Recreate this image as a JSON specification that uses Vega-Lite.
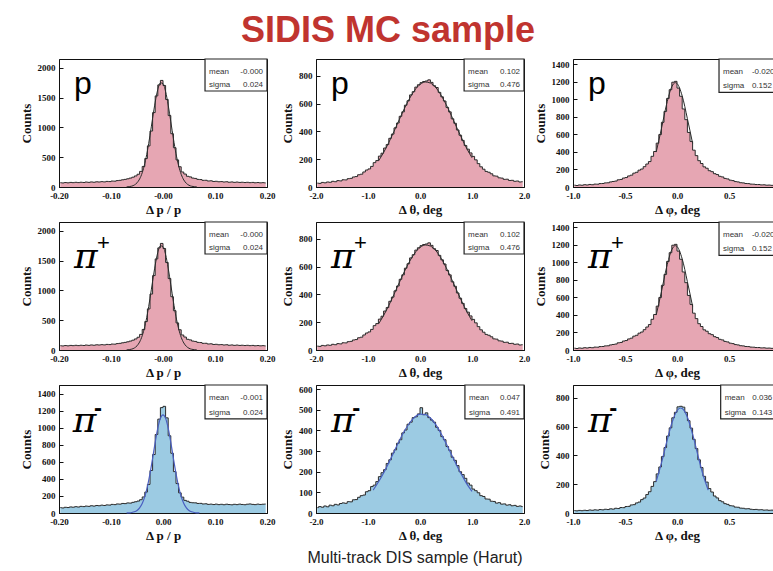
{
  "$schema": "https://vega.github.io/schema/vega-lite/v6.json",
  "padding": {"left": 19, "top": 12, "right": 0, "bottom": 0},
  "background": "white",
  "columns": 3,
  "spacing": {"row": 35, "column": 49},
  "bounds": "flush",
  "config": {
    "view": {"stroke": "#111", "strokeWidth": 1},
    "axis": {"labelFont": "Liberation Serif", "labelFontWeight": "bold", "labelFontSize": 9, "labelColor": "#111", "titleFont": "Liberation Serif", "titleFontWeight": "bold", "titleFontSize": 13, "titleColor": "#111", "tickSize": -4, "tickColor": "#111", "domainColor": "#111", "labelPadding": 8, "titlePadding": 3, "grid": false, "labelFlush": false, "labelOverlap": false},
    "axisY": {"titlePadding": 4},
    "text": {"font": "Liberation Sans"}
  },
  "datasets": {
    "A": [{"x":-0.1975,"n":72},{"x":-0.1925,"n":68},{"x":-0.1875,"n":75},{"x":-0.1825,"n":70},{"x":-0.1775,"n":77},{"x":-0.1725,"n":73},{"x":-0.1675,"n":79},{"x":-0.1625,"n":74},{"x":-0.1575,"n":80},{"x":-0.1525,"n":76},{"x":-0.1475,"n":83},{"x":-0.1425,"n":78},{"x":-0.1375,"n":85},{"x":-0.1325,"n":80},{"x":-0.1275,"n":87},{"x":-0.1225,"n":84},{"x":-0.1175,"n":90},{"x":-0.1125,"n":86},{"x":-0.1075,"n":94},{"x":-0.1025,"n":91},{"x":-0.0975,"n":100},{"x":-0.0925,"n":98},{"x":-0.0875,"n":108},{"x":-0.0825,"n":112},{"x":-0.0775,"n":121},{"x":-0.0725,"n":128},{"x":-0.0675,"n":138},{"x":-0.0625,"n":150},{"x":-0.0575,"n":165},{"x":-0.0525,"n":186},{"x":-0.0475,"n":214},{"x":-0.0425,"n":262},{"x":-0.0375,"n":345},{"x":-0.0325,"n":478},{"x":-0.0275,"n":690},{"x":-0.0225,"n":940},{"x":-0.0175,"n":1250},{"x":-0.0125,"n":1530},{"x":-0.0075,"n":1715},{"x":-0.0025,"n":1790},{"x":0.0025,"n":1705},{"x":0.0075,"n":1470},{"x":0.0125,"n":1200},{"x":0.0175,"n":895},{"x":0.0225,"n":660},{"x":0.0275,"n":455},{"x":0.0325,"n":340},{"x":0.0375,"n":252},{"x":0.0425,"n":218},{"x":0.0475,"n":180},{"x":0.0525,"n":170},{"x":0.0575,"n":150},{"x":0.0625,"n":144},{"x":0.0675,"n":128},{"x":0.0725,"n":125},{"x":0.0775,"n":112},{"x":0.0825,"n":113},{"x":0.0875,"n":101},{"x":0.0925,"n":104},{"x":0.0975,"n":93},{"x":0.1025,"n":96},{"x":0.1075,"n":88},{"x":0.1125,"n":91},{"x":0.1175,"n":84},{"x":0.1225,"n":88},{"x":0.1275,"n":80},{"x":0.1325,"n":85},{"x":0.1375,"n":78},{"x":0.1425,"n":83},{"x":0.1475,"n":77},{"x":0.1525,"n":80},{"x":0.1575,"n":75},{"x":0.1625,"n":79},{"x":0.1675,"n":73},{"x":0.1725,"n":77},{"x":0.1775,"n":71},{"x":0.1825,"n":75},{"x":0.1875,"n":70},{"x":0.1925,"n":73},{"x":0.1975,"n":69}],
    "D": [{"x":-0.1975,"n":63},{"x":-0.1925,"n":59},{"x":-0.1875,"n":67},{"x":-0.1825,"n":64},{"x":-0.1775,"n":71},{"x":-0.1725,"n":68},{"x":-0.1675,"n":74},{"x":-0.1625,"n":70},{"x":-0.1575,"n":78},{"x":-0.1525,"n":75},{"x":-0.1475,"n":81},{"x":-0.1425,"n":78},{"x":-0.1375,"n":85},{"x":-0.1325,"n":81},{"x":-0.1275,"n":88},{"x":-0.1225,"n":85},{"x":-0.1175,"n":92},{"x":-0.1125,"n":88},{"x":-0.1075,"n":95},{"x":-0.1025,"n":93},{"x":-0.0975,"n":101},{"x":-0.0925,"n":98},{"x":-0.0875,"n":106},{"x":-0.0825,"n":104},{"x":-0.0775,"n":112},{"x":-0.0725,"n":110},{"x":-0.0675,"n":118},{"x":-0.0625,"n":116},{"x":-0.0575,"n":125},{"x":-0.0525,"n":132},{"x":-0.0475,"n":140},{"x":-0.0425,"n":156},{"x":-0.0375,"n":188},{"x":-0.0325,"n":245},{"x":-0.0275,"n":335},{"x":-0.0225,"n":498},{"x":-0.0175,"n":685},{"x":-0.0125,"n":920},{"x":-0.0075,"n":1100},{"x":-0.0025,"n":1235},{"x":0.0025,"n":1250},{"x":0.0075,"n":1115},{"x":0.0125,"n":905},{"x":0.0175,"n":700},{"x":0.0225,"n":485},{"x":0.0275,"n":345},{"x":0.0325,"n":236},{"x":0.0375,"n":186},{"x":0.0425,"n":148},{"x":0.0475,"n":138},{"x":0.0525,"n":124},{"x":0.0575,"n":120},{"x":0.0625,"n":119},{"x":0.0675,"n":112},{"x":0.0725,"n":113},{"x":0.0775,"n":106},{"x":0.0825,"n":108},{"x":0.0875,"n":101},{"x":0.0925,"n":104},{"x":0.0975,"n":99},{"x":0.1025,"n":104},{"x":0.1075,"n":98},{"x":0.1125,"n":102},{"x":0.1175,"n":97},{"x":0.1225,"n":103},{"x":0.1275,"n":99},{"x":0.1325,"n":96},{"x":0.1375,"n":102},{"x":0.1425,"n":98},{"x":0.1475,"n":104},{"x":0.1525,"n":100},{"x":0.1575,"n":97},{"x":0.1625,"n":103},{"x":0.1675,"n":106},{"x":0.1725,"n":101},{"x":0.1775,"n":98},{"x":0.1825,"n":104},{"x":0.1875,"n":100},{"x":0.1925,"n":103},{"x":0.1975,"n":105}],
    "B": [{"x":-1.975,"n":28},{"x":-1.925,"n":26},{"x":-1.875,"n":33},{"x":-1.825,"n":30},{"x":-1.775,"n":36},{"x":-1.725,"n":34},{"x":-1.675,"n":41},{"x":-1.625,"n":38},{"x":-1.575,"n":46},{"x":-1.525,"n":44},{"x":-1.475,"n":52},{"x":-1.425,"n":51},{"x":-1.375,"n":60},{"x":-1.325,"n":62},{"x":-1.275,"n":72},{"x":-1.225,"n":75},{"x":-1.175,"n":88},{"x":-1.125,"n":92},{"x":-1.075,"n":108},{"x":-1.025,"n":122},{"x":-0.975,"n":130},{"x":-0.925,"n":148},{"x":-0.875,"n":175},{"x":-0.825,"n":190},{"x":-0.775,"n":222},{"x":-0.725,"n":243},{"x":-0.675,"n":280},{"x":-0.625,"n":305},{"x":-0.575,"n":350},{"x":-0.525,"n":380},{"x":-0.475,"n":425},{"x":-0.425,"n":460},{"x":-0.375,"n":508},{"x":-0.325,"n":540},{"x":-0.275,"n":588},{"x":-0.225,"n":620},{"x":-0.175,"n":662},{"x":-0.125,"n":685},{"x":-0.075,"n":718},{"x":-0.025,"n":735},{"x":0.025,"n":750},{"x":0.075,"n":758},{"x":0.125,"n":762},{"x":0.175,"n":770},{"x":0.225,"n":752},{"x":0.275,"n":728},{"x":0.325,"n":715},{"x":0.375,"n":680},{"x":0.425,"n":648},{"x":0.475,"n":618},{"x":0.525,"n":572},{"x":0.575,"n":540},{"x":0.625,"n":490},{"x":0.675,"n":458},{"x":0.725,"n":410},{"x":0.775,"n":372},{"x":0.825,"n":335},{"x":0.875,"n":298},{"x":0.925,"n":272},{"x":0.975,"n":245},{"x":1.025,"n":220},{"x":1.075,"n":195},{"x":1.125,"n":168},{"x":1.175,"n":145},{"x":1.225,"n":128},{"x":1.275,"n":112},{"x":1.325,"n":106},{"x":1.375,"n":95},{"x":1.425,"n":80},{"x":1.475,"n":78},{"x":1.525,"n":66},{"x":1.575,"n":64},{"x":1.625,"n":55},{"x":1.675,"n":56},{"x":1.725,"n":47},{"x":1.775,"n":48},{"x":1.825,"n":41},{"x":1.875,"n":43},{"x":1.925,"n":36},{"x":1.975,"n":38}],
    "E": [{"x":-1.975,"n":26},{"x":-1.925,"n":31},{"x":-1.875,"n":28},{"x":-1.825,"n":34},{"x":-1.775,"n":30},{"x":-1.725,"n":38},{"x":-1.675,"n":35},{"x":-1.625,"n":42},{"x":-1.575,"n":39},{"x":-1.525,"n":46},{"x":-1.475,"n":49},{"x":-1.425,"n":47},{"x":-1.375,"n":55},{"x":-1.325,"n":54},{"x":-1.275,"n":64},{"x":-1.225,"n":65},{"x":-1.175,"n":76},{"x":-1.125,"n":84},{"x":-1.075,"n":87},{"x":-1.025,"n":103},{"x":-0.975,"n":108},{"x":-0.925,"n":128},{"x":-0.875,"n":135},{"x":-0.825,"n":152},{"x":-0.775,"n":176},{"x":-0.725,"n":195},{"x":-0.675,"n":210},{"x":-0.625,"n":240},{"x":-0.575,"n":258},{"x":-0.525,"n":290},{"x":-0.475,"n":306},{"x":-0.425,"n":338},{"x":-0.375,"n":355},{"x":-0.325,"n":388},{"x":-0.275,"n":402},{"x":-0.225,"n":430},{"x":-0.175,"n":440},{"x":-0.125,"n":462},{"x":-0.075,"n":466},{"x":-0.025,"n":480},{"x":0.025,"n":510},{"x":0.075,"n":476},{"x":0.125,"n":485},{"x":0.175,"n":462},{"x":0.225,"n":450},{"x":0.275,"n":440},{"x":0.325,"n":415},{"x":0.375,"n":400},{"x":0.425,"n":370},{"x":0.475,"n":355},{"x":0.525,"n":322},{"x":0.575,"n":304},{"x":0.625,"n":270},{"x":0.675,"n":255},{"x":0.725,"n":230},{"x":0.775,"n":200},{"x":0.825,"n":186},{"x":0.875,"n":168},{"x":0.925,"n":145},{"x":0.975,"n":135},{"x":1.025,"n":116},{"x":1.075,"n":108},{"x":1.125,"n":98},{"x":1.175,"n":84},{"x":1.225,"n":80},{"x":1.275,"n":68},{"x":1.325,"n":67},{"x":1.375,"n":57},{"x":1.425,"n":56},{"x":1.475,"n":48},{"x":1.525,"n":50},{"x":1.575,"n":43},{"x":1.625,"n":44},{"x":1.675,"n":38},{"x":1.725,"n":40},{"x":1.775,"n":35},{"x":1.825,"n":37},{"x":1.875,"n":32},{"x":1.925,"n":34},{"x":1.975,"n":31}],
    "C": [{"x":-0.9875,"n":21},{"x":-0.9625,"n":17},{"x":-0.9375,"n":23},{"x":-0.9125,"n":20},{"x":-0.8875,"n":26},{"x":-0.8625,"n":23},{"x":-0.8375,"n":29},{"x":-0.8125,"n":26},{"x":-0.7875,"n":33},{"x":-0.7625,"n":32},{"x":-0.7375,"n":39},{"x":-0.7125,"n":40},{"x":-0.6875,"n":47},{"x":-0.6625,"n":48},{"x":-0.6375,"n":58},{"x":-0.6125,"n":63},{"x":-0.5875,"n":68},{"x":-0.5625,"n":82},{"x":-0.5375,"n":86},{"x":-0.5125,"n":102},{"x":-0.4875,"n":108},{"x":-0.4625,"n":126},{"x":-0.4375,"n":135},{"x":-0.4125,"n":158},{"x":-0.3875,"n":168},{"x":-0.3625,"n":192},{"x":-0.3375,"n":205},{"x":-0.3125,"n":232},{"x":-0.2875,"n":262},{"x":-0.2625,"n":290},{"x":-0.2375,"n":350},{"x":-0.2125,"n":405},{"x":-0.1875,"n":500},{"x":-0.1625,"n":598},{"x":-0.1375,"n":738},{"x":-0.1125,"n":862},{"x":-0.0875,"n":1010},{"x":-0.0625,"n":1110},{"x":-0.0375,"n":1195},{"x":-0.0125,"n":1205},{"x":0.0125,"n":1128},{"x":0.0375,"n":1035},{"x":0.0625,"n":890},{"x":0.0875,"n":768},{"x":0.1125,"n":622},{"x":0.1375,"n":520},{"x":0.1625,"n":420},{"x":0.1875,"n":358},{"x":0.2125,"n":300},{"x":0.2375,"n":268},{"x":0.2625,"n":230},{"x":0.2875,"n":214},{"x":0.3125,"n":186},{"x":0.3375,"n":175},{"x":0.3625,"n":152},{"x":0.3875,"n":142},{"x":0.4125,"n":122},{"x":0.4375,"n":115},{"x":0.4625,"n":98},{"x":0.4875,"n":92},{"x":0.5125,"n":78},{"x":0.5375,"n":73},{"x":0.5625,"n":62},{"x":0.5875,"n":58},{"x":0.6125,"n":49},{"x":0.6375,"n":47},{"x":0.6625,"n":40},{"x":0.6875,"n":39},{"x":0.7125,"n":33},{"x":0.7375,"n":32},{"x":0.7625,"n":28},{"x":0.7875,"n":28},{"x":0.8125,"n":24},{"x":0.8375,"n":25},{"x":0.8625,"n":21},{"x":0.8875,"n":22},{"x":0.9125,"n":19},{"x":0.9375,"n":20},{"x":0.9625,"n":18},{"x":0.9875,"n":17}],
    "F": [{"x":-0.9875,"n":17},{"x":-0.9625,"n":15},{"x":-0.9375,"n":18},{"x":-0.9125,"n":16},{"x":-0.8875,"n":19},{"x":-0.8625,"n":17},{"x":-0.8375,"n":21},{"x":-0.8125,"n":19},{"x":-0.7875,"n":22},{"x":-0.7625,"n":20},{"x":-0.7375,"n":24},{"x":-0.7125,"n":22},{"x":-0.6875,"n":26},{"x":-0.6625,"n":24},{"x":-0.6375,"n":29},{"x":-0.6125,"n":27},{"x":-0.5875,"n":33},{"x":-0.5625,"n":31},{"x":-0.5375,"n":38},{"x":-0.5125,"n":37},{"x":-0.4875,"n":45},{"x":-0.4625,"n":46},{"x":-0.4375,"n":56},{"x":-0.4125,"n":58},{"x":-0.3875,"n":70},{"x":-0.3625,"n":76},{"x":-0.3375,"n":93},{"x":-0.3125,"n":104},{"x":-0.2875,"n":128},{"x":-0.2625,"n":148},{"x":-0.2375,"n":185},{"x":-0.2125,"n":218},{"x":-0.1875,"n":272},{"x":-0.1625,"n":320},{"x":-0.1375,"n":392},{"x":-0.1125,"n":455},{"x":-0.0875,"n":535},{"x":-0.0625,"n":592},{"x":-0.0375,"n":662},{"x":-0.0125,"n":700},{"x":0.0125,"n":738},{"x":0.0375,"n":742},{"x":0.0625,"n":736},{"x":0.0875,"n":700},{"x":0.1125,"n":642},{"x":0.1375,"n":590},{"x":0.1625,"n":512},{"x":0.1875,"n":448},{"x":0.2125,"n":370},{"x":0.2375,"n":316},{"x":0.2625,"n":255},{"x":0.2875,"n":215},{"x":0.3125,"n":170},{"x":0.3375,"n":146},{"x":0.3625,"n":118},{"x":0.3875,"n":105},{"x":0.4125,"n":86},{"x":0.4375,"n":78},{"x":0.4625,"n":65},{"x":0.4875,"n":60},{"x":0.5125,"n":51},{"x":0.5375,"n":49},{"x":0.5625,"n":41},{"x":0.5875,"n":40},{"x":0.6125,"n":34},{"x":0.6375,"n":33},{"x":0.6625,"n":29},{"x":0.6875,"n":30},{"x":0.7125,"n":26},{"x":0.7375,"n":24},{"x":0.7625,"n":25},{"x":0.7875,"n":22},{"x":0.8125,"n":23},{"x":0.8375,"n":20},{"x":0.8625,"n":21},{"x":0.8875,"n":19},{"x":0.9125,"n":20},{"x":0.9375,"n":18},{"x":0.9625,"n":19},{"x":0.9875,"n":17}],
    "fitA": [{"x":-0.07,"n":2.5},{"x":-0.065,"n":6},{"x":-0.06,"n":15},{"x":-0.055,"n":34},{"x":-0.05,"n":70},{"x":-0.045,"n":134},{"x":-0.04,"n":238},{"x":-0.035,"n":394},{"x":-0.03,"n":607},{"x":-0.025,"n":868},{"x":-0.02,"n":1154},{"x":-0.015,"n":1426},{"x":-0.01,"n":1638},{"x":-0.005,"n":1750},{"x":0,"n":1737},{"x":0.005,"n":1603},{"x":0.01,"n":1375},{"x":0.015,"n":1097},{"x":0.02,"n":813},{"x":0.025,"n":560},{"x":0.03,"n":359},{"x":0.035,"n":213},{"x":0.04,"n":118},{"x":0.045,"n":61},{"x":0.05,"n":29},{"x":0.055,"n":13},{"x":0.06,"n":5},{"x":0.065,"n":2}],
    "fitB": [{"x":-0.8,"n":186},{"x":-0.7,"n":248},{"x":-0.6,"n":320},{"x":-0.5,"n":400},{"x":-0.4,"n":483},{"x":-0.3,"n":564},{"x":-0.2,"n":637},{"x":-0.1,"n":697},{"x":0,"n":737},{"x":0.1,"n":755},{"x":0.2,"n":747},{"x":0.3,"n":716},{"x":0.4,"n":663},{"x":0.5,"n":595},{"x":0.6,"n":516},{"x":0.7,"n":433},{"x":0.8,"n":352},{"x":0.9,"n":276},{"x":1.0,"n":210}],
    "fitC": [{"x":-0.2,"n":398},{"x":-0.15,"n":664},{"x":-0.1,"n":944},{"x":-0.05,"n":1144},{"x":-0.015,"n":1190},{"x":0,"n":1181},{"x":0.05,"n":1039},{"x":0.1,"n":779},{"x":0.15,"n":498}],
    "fitD": [{"x":-0.07,"n":1},{"x":-0.065,"n":2.4},{"x":-0.06,"n":6},{"x":-0.055,"n":14},{"x":-0.05,"n":30},{"x":-0.045,"n":60},{"x":-0.04,"n":111},{"x":-0.035,"n":192},{"x":-0.03,"n":309},{"x":-0.025,"n":461},{"x":-0.02,"n":641},{"x":-0.015,"n":828},{"x":-0.01,"n":994},{"x":-0.005,"n":1109},{"x":0,"n":1150},{"x":0.005,"n":1109},{"x":0.01,"n":994},{"x":0.015,"n":828},{"x":0.02,"n":641},{"x":0.025,"n":461},{"x":0.03,"n":309},{"x":0.035,"n":192},{"x":0.04,"n":111},{"x":0.045,"n":60},{"x":0.05,"n":30},{"x":0.055,"n":14},{"x":0.06,"n":6},{"x":0.065,"n":2.4},{"x":0.07,"n":1}],
    "fitE": [{"x":-0.9,"n":111},{"x":-0.8,"n":150},{"x":-0.7,"n":194},{"x":-0.6,"n":244},{"x":-0.5,"n":296},{"x":-0.4,"n":349},{"x":-0.3,"n":397},{"x":-0.2,"n":436},{"x":-0.1,"n":465},{"x":0,"n":479},{"x":0.1,"n":477},{"x":0.2,"n":460},{"x":0.3,"n":429},{"x":0.4,"n":387},{"x":0.5,"n":338},{"x":0.6,"n":286},{"x":0.7,"n":234},{"x":0.8,"n":185},{"x":0.9,"n":141},{"x":1.0,"n":105}],
    "fitF": [{"x":-0.2,"n":220},{"x":-0.15,"n":347},{"x":-0.1,"n":491},{"x":-0.05,"n":624},{"x":0,"n":711},{"x":0.035,"n":730},{"x":0.05,"n":726},{"x":0.1,"n":666},{"x":0.15,"n":548},{"x":0.2,"n":404},{"x":0.25,"n":267},{"x":0.3,"n":159}],
    "stats": [{"panel":"A","mean":"-0.000","sigma":"0.024"},{"panel":"B","mean":"0.102","sigma":"0.476"},{"panel":"C","mean":"-0.020","sigma":"0.152"},{"panel":"D","mean":"-0.001","sigma":"0.024"},{"panel":"E","mean":"0.047","sigma":"0.491"},{"panel":"F","mean":"0.036","sigma":"0.143"}]
  },
  "concat": [
    {
      "width": 208, "height": 128,
      "resolve": {"scale": {"x": "independent", "y": "independent"}},
      "layer": [
        {"encoding": {
          "x": {"field": "x", "type": "quantitative", "scale": {"domain": [-0.2, 0.2]}, "axis": {"title": "Δ p / p", "values": [-0.2, -0.1, 0, 0.1, 0.2], "labelExpr": "datum.value == 0 ? '-0.00' : replace(format(datum.value, '.2f'), '−', '-')"}},
          "y": {"field": "n", "type": "quantitative", "scale": {"domain": [0, 2150]}, "axis": {"title": "Counts", "values": [0, 500, 1000, 1500, 2000], "format": "d"}}
        },
        "layer": [
          {"data": {"name": "A"}, "mark": {"type": "area", "interpolate": "step", "color": "#e6a6b3", "opacity": 1}},
          {"data": {"name": "A"}, "mark": {"type": "line", "interpolate": "step", "color": "#2a2a2a", "strokeWidth": 1}},
          {"data": {"name": "fitA"}, "mark": {"type": "line", "interpolate": "monotone", "color": "#2a2a2a", "strokeWidth": 1}}
        ]},
        {"data": {"name": "stats"}, "transform": [{"filter": "datum.panel == 'A'"}],
         "encoding": {"x": {"datum": 0, "type": "quantitative", "scale": {"domain": [0, 1]}, "axis": null}, "y": {"datum": 0, "type": "quantitative", "scale": {"domain": [0, 1]}, "axis": null}},
         "layer": [
          {"mark": {"type": "rect", "fill": "white", "stroke": "#222", "strokeWidth": 1.2}, "encoding": {"x": {"datum": 0.702}, "x2": {"datum": 1}, "y": {"datum": 0.75}, "y2": {"datum": 1}}},
          {"mark": {"type": "text", "align": "left", "fontSize": 8, "color": "#333"}, "encoding": {"x": {"datum": 0.721}, "y": {"datum": 0.902}, "text": {"value": "mean"}}},
          {"mark": {"type": "text", "align": "left", "fontSize": 8, "color": "#333"}, "encoding": {"x": {"datum": 0.721}, "y": {"datum": 0.797}, "text": {"value": "sigma"}}},
          {"mark": {"type": "text", "align": "right", "fontSize": 8, "color": "#333"}, "encoding": {"x": {"datum": 0.981}, "y": {"datum": 0.902}, "text": {"field": "mean"}}},
          {"mark": {"type": "text", "align": "right", "fontSize": 8, "color": "#333"}, "encoding": {"x": {"datum": 0.981}, "y": {"datum": 0.797}, "text": {"field": "sigma"}}},
          {"mark": {"type": "text", "align": "left", "fontSize": 32, "color": "#000"}, "encoding": {"x": {"datum": 0.072}, "y": {"datum": 0.805}, "text": {"value": "p"}}}
        ]}
      ]
    },
    {
      "width": 208, "height": 128,
      "resolve": {"scale": {"x": "independent", "y": "independent"}},
      "title": {"text": "SIDIS MC sample", "orient": "top", "anchor": "middle", "dx": -32, "offset": -20, "baseline": "alphabetic", "font": "Liberation Sans", "fontSize": 36, "fontWeight": "bold", "color": "#c0342f"},
      "layer": [
        {"encoding": {
          "x": {"field": "x", "type": "quantitative", "scale": {"domain": [-2, 2]}, "axis": {"title": "Δ θ, deg", "values": [-2, -1, 0, 1, 2], "labelExpr": "replace(format(datum.value, '.1f'), '−', '-')"}},
          "y": {"field": "n", "type": "quantitative", "scale": {"domain": [0, 920]}, "axis": {"title": "Counts", "values": [0, 200, 400, 600, 800], "format": "d"}}
        },
        "layer": [
          {"data": {"name": "B"}, "mark": {"type": "area", "interpolate": "step", "color": "#e6a6b3", "opacity": 1}},
          {"data": {"name": "B"}, "mark": {"type": "line", "interpolate": "step", "color": "#2a2a2a", "strokeWidth": 1}},
          {"data": {"name": "fitB"}, "mark": {"type": "line", "interpolate": "monotone", "color": "#2a2a2a", "strokeWidth": 1}}
        ]},
        {"data": {"name": "stats"}, "transform": [{"filter": "datum.panel == 'B'"}],
         "encoding": {"x": {"datum": 0, "type": "quantitative", "scale": {"domain": [0, 1]}, "axis": null}, "y": {"datum": 0, "type": "quantitative", "scale": {"domain": [0, 1]}, "axis": null}},
         "layer": [
          {"mark": {"type": "rect", "fill": "white", "stroke": "#222", "strokeWidth": 1.2}, "encoding": {"x": {"datum": 0.712}, "x2": {"datum": 1}, "y": {"datum": 0.75}, "y2": {"datum": 1}}},
          {"mark": {"type": "text", "align": "left", "fontSize": 8, "color": "#333"}, "encoding": {"x": {"datum": 0.731}, "y": {"datum": 0.902}, "text": {"value": "mean"}}},
          {"mark": {"type": "text", "align": "left", "fontSize": 8, "color": "#333"}, "encoding": {"x": {"datum": 0.731}, "y": {"datum": 0.797}, "text": {"value": "sigma"}}},
          {"mark": {"type": "text", "align": "right", "fontSize": 8, "color": "#333"}, "encoding": {"x": {"datum": 0.981}, "y": {"datum": 0.902}, "text": {"field": "mean"}}},
          {"mark": {"type": "text", "align": "right", "fontSize": 8, "color": "#333"}, "encoding": {"x": {"datum": 0.981}, "y": {"datum": 0.797}, "text": {"field": "sigma"}}},
          {"mark": {"type": "text", "align": "left", "fontSize": 32, "color": "#000"}, "encoding": {"x": {"datum": 0.072}, "y": {"datum": 0.805}, "text": {"value": "p"}}}
        ]}
      ]
    },
    {
      "width": 208, "height": 128,
      "resolve": {"scale": {"x": "independent", "y": "independent"}},
      "layer": [
        {"encoding": {
          "x": {"field": "x", "type": "quantitative", "scale": {"domain": [-1, 1]}, "axis": {"title": "Δ φ, deg", "values": [-1, -0.5, 0, 0.5, 1], "labelExpr": "replace(format(datum.value, '.1f'), '−', '-')"}},
          "y": {"field": "n", "type": "quantitative", "scale": {"domain": [0, 1460]}, "axis": {"title": "Counts", "values": [0, 200, 400, 600, 800, 1000, 1200, 1400], "format": "d"}}
        },
        "layer": [
          {"data": {"name": "C"}, "mark": {"type": "area", "interpolate": "step", "color": "#e6a6b3", "opacity": 1}},
          {"data": {"name": "C"}, "mark": {"type": "line", "interpolate": "step", "color": "#2a2a2a", "strokeWidth": 1}},
          {"data": {"name": "fitC"}, "mark": {"type": "line", "interpolate": "monotone", "color": "#2a2a2a", "strokeWidth": 1}}
        ]},
        {"data": {"name": "stats"}, "transform": [{"filter": "datum.panel == 'C'"}],
         "encoding": {"x": {"datum": 0, "type": "quantitative", "scale": {"domain": [0, 1]}, "axis": null}, "y": {"datum": 0, "type": "quantitative", "scale": {"domain": [0, 1]}, "axis": null}},
         "layer": [
          {"mark": {"type": "rect", "fill": "white", "stroke": "#222", "strokeWidth": 1.2}, "encoding": {"x": {"datum": 0.702}, "x2": {"datum": 1}, "y": {"datum": 0.74}, "y2": {"datum": 1}}},
          {"mark": {"type": "text", "align": "left", "fontSize": 8, "color": "#333"}, "encoding": {"x": {"datum": 0.721}, "y": {"datum": 0.898}, "text": {"value": "mean"}}},
          {"mark": {"type": "text", "align": "left", "fontSize": 8, "color": "#333"}, "encoding": {"x": {"datum": 0.721}, "y": {"datum": 0.79}, "text": {"value": "sigma"}}},
          {"mark": {"type": "text", "align": "left", "fontSize": 8, "color": "#333"}, "encoding": {"x": {"datum": 0.86}, "y": {"datum": 0.898}, "text": {"field": "mean"}}},
          {"mark": {"type": "text", "align": "left", "fontSize": 8, "color": "#333"}, "encoding": {"x": {"datum": 0.86}, "y": {"datum": 0.79}, "text": {"field": "sigma"}}},
          {"mark": {"type": "text", "align": "left", "fontSize": 32, "color": "#000"}, "encoding": {"x": {"datum": 0.072}, "y": {"datum": 0.805}, "text": {"value": "p"}}}
        ]}
      ]
    },
    {
      "width": 208, "height": 128,
      "resolve": {"scale": {"x": "independent", "y": "independent"}},
      "layer": [
        {"encoding": {
          "x": {"field": "x", "type": "quantitative", "scale": {"domain": [-0.2, 0.2]}, "axis": {"title": "Δ p / p", "values": [-0.2, -0.1, 0, 0.1, 0.2], "labelExpr": "datum.value == 0 ? '-0.00' : replace(format(datum.value, '.2f'), '−', '-')"}},
          "y": {"field": "n", "type": "quantitative", "scale": {"domain": [0, 2150]}, "axis": {"title": "Counts", "values": [0, 500, 1000, 1500, 2000], "format": "d"}}
        },
        "layer": [
          {"data": {"name": "A"}, "mark": {"type": "area", "interpolate": "step", "color": "#e6a6b3", "opacity": 1}},
          {"data": {"name": "A"}, "mark": {"type": "line", "interpolate": "step", "color": "#2a2a2a", "strokeWidth": 1}},
          {"data": {"name": "fitA"}, "mark": {"type": "line", "interpolate": "monotone", "color": "#2a2a2a", "strokeWidth": 1}}
        ]},
        {"data": {"name": "stats"}, "transform": [{"filter": "datum.panel == 'A'"}],
         "encoding": {"x": {"datum": 0, "type": "quantitative", "scale": {"domain": [0, 1]}, "axis": null}, "y": {"datum": 0, "type": "quantitative", "scale": {"domain": [0, 1]}, "axis": null}},
         "layer": [
          {"mark": {"type": "rect", "fill": "white", "stroke": "#222", "strokeWidth": 1.2}, "encoding": {"x": {"datum": 0.702}, "x2": {"datum": 1}, "y": {"datum": 0.75}, "y2": {"datum": 1}}},
          {"mark": {"type": "text", "align": "left", "fontSize": 8, "color": "#333"}, "encoding": {"x": {"datum": 0.721}, "y": {"datum": 0.902}, "text": {"value": "mean"}}},
          {"mark": {"type": "text", "align": "left", "fontSize": 8, "color": "#333"}, "encoding": {"x": {"datum": 0.721}, "y": {"datum": 0.797}, "text": {"value": "sigma"}}},
          {"mark": {"type": "text", "align": "right", "fontSize": 8, "color": "#333"}, "encoding": {"x": {"datum": 0.981}, "y": {"datum": 0.902}, "text": {"field": "mean"}}},
          {"mark": {"type": "text", "align": "right", "fontSize": 8, "color": "#333"}, "encoding": {"x": {"datum": 0.981}, "y": {"datum": 0.797}, "text": {"field": "sigma"}}},
          {"mark": {"type": "text", "align": "left", "fontSize": 36, "font": "DejaVu Serif", "fontStyle": "italic", "color": "#000"}, "encoding": {"x": {"datum": 0.072}, "y": {"datum": 0.727}, "text": {"value": "π"}}},
          {"mark": {"type": "text", "align": "left", "fontSize": 22, "color": "#000"}, "encoding": {"x": {"datum": 0.183}, "y": {"datum": 0.836}, "text": {"value": "+"}}}
        ]}
      ]
    },
    {
      "width": 208, "height": 128,
      "resolve": {"scale": {"x": "independent", "y": "independent"}},
      "layer": [
        {"encoding": {
          "x": {"field": "x", "type": "quantitative", "scale": {"domain": [-2, 2]}, "axis": {"title": "Δ θ, deg", "values": [-2, -1, 0, 1, 2], "labelExpr": "replace(format(datum.value, '.1f'), '−', '-')"}},
          "y": {"field": "n", "type": "quantitative", "scale": {"domain": [0, 920]}, "axis": {"title": "Counts", "values": [0, 200, 400, 600, 800], "format": "d"}}
        },
        "layer": [
          {"data": {"name": "B"}, "mark": {"type": "area", "interpolate": "step", "color": "#e6a6b3", "opacity": 1}},
          {"data": {"name": "B"}, "mark": {"type": "line", "interpolate": "step", "color": "#2a2a2a", "strokeWidth": 1}},
          {"data": {"name": "fitB"}, "mark": {"type": "line", "interpolate": "monotone", "color": "#2a2a2a", "strokeWidth": 1}}
        ]},
        {"data": {"name": "stats"}, "transform": [{"filter": "datum.panel == 'B'"}],
         "encoding": {"x": {"datum": 0, "type": "quantitative", "scale": {"domain": [0, 1]}, "axis": null}, "y": {"datum": 0, "type": "quantitative", "scale": {"domain": [0, 1]}, "axis": null}},
         "layer": [
          {"mark": {"type": "rect", "fill": "white", "stroke": "#222", "strokeWidth": 1.2}, "encoding": {"x": {"datum": 0.712}, "x2": {"datum": 1}, "y": {"datum": 0.75}, "y2": {"datum": 1}}},
          {"mark": {"type": "text", "align": "left", "fontSize": 8, "color": "#333"}, "encoding": {"x": {"datum": 0.731}, "y": {"datum": 0.902}, "text": {"value": "mean"}}},
          {"mark": {"type": "text", "align": "left", "fontSize": 8, "color": "#333"}, "encoding": {"x": {"datum": 0.731}, "y": {"datum": 0.797}, "text": {"value": "sigma"}}},
          {"mark": {"type": "text", "align": "right", "fontSize": 8, "color": "#333"}, "encoding": {"x": {"datum": 0.981}, "y": {"datum": 0.902}, "text": {"field": "mean"}}},
          {"mark": {"type": "text", "align": "right", "fontSize": 8, "color": "#333"}, "encoding": {"x": {"datum": 0.981}, "y": {"datum": 0.797}, "text": {"field": "sigma"}}},
          {"mark": {"type": "text", "align": "left", "fontSize": 36, "font": "DejaVu Serif", "fontStyle": "italic", "color": "#000"}, "encoding": {"x": {"datum": 0.072}, "y": {"datum": 0.727}, "text": {"value": "π"}}},
          {"mark": {"type": "text", "align": "left", "fontSize": 22, "color": "#000"}, "encoding": {"x": {"datum": 0.183}, "y": {"datum": 0.836}, "text": {"value": "+"}}}
        ]}
      ]
    },
    {
      "width": 208, "height": 128,
      "resolve": {"scale": {"x": "independent", "y": "independent"}},
      "layer": [
        {"encoding": {
          "x": {"field": "x", "type": "quantitative", "scale": {"domain": [-1, 1]}, "axis": {"title": "Δ φ, deg", "values": [-1, -0.5, 0, 0.5, 1], "labelExpr": "replace(format(datum.value, '.1f'), '−', '-')"}},
          "y": {"field": "n", "type": "quantitative", "scale": {"domain": [0, 1460]}, "axis": {"title": "Counts", "values": [0, 200, 400, 600, 800, 1000, 1200, 1400], "format": "d"}}
        },
        "layer": [
          {"data": {"name": "C"}, "mark": {"type": "area", "interpolate": "step", "color": "#e6a6b3", "opacity": 1}},
          {"data": {"name": "C"}, "mark": {"type": "line", "interpolate": "step", "color": "#2a2a2a", "strokeWidth": 1}},
          {"data": {"name": "fitC"}, "mark": {"type": "line", "interpolate": "monotone", "color": "#2a2a2a", "strokeWidth": 1}}
        ]},
        {"data": {"name": "stats"}, "transform": [{"filter": "datum.panel == 'C'"}],
         "encoding": {"x": {"datum": 0, "type": "quantitative", "scale": {"domain": [0, 1]}, "axis": null}, "y": {"datum": 0, "type": "quantitative", "scale": {"domain": [0, 1]}, "axis": null}},
         "layer": [
          {"mark": {"type": "rect", "fill": "white", "stroke": "#222", "strokeWidth": 1.2}, "encoding": {"x": {"datum": 0.702}, "x2": {"datum": 1}, "y": {"datum": 0.74}, "y2": {"datum": 1}}},
          {"mark": {"type": "text", "align": "left", "fontSize": 8, "color": "#333"}, "encoding": {"x": {"datum": 0.721}, "y": {"datum": 0.898}, "text": {"value": "mean"}}},
          {"mark": {"type": "text", "align": "left", "fontSize": 8, "color": "#333"}, "encoding": {"x": {"datum": 0.721}, "y": {"datum": 0.79}, "text": {"value": "sigma"}}},
          {"mark": {"type": "text", "align": "left", "fontSize": 8, "color": "#333"}, "encoding": {"x": {"datum": 0.86}, "y": {"datum": 0.898}, "text": {"field": "mean"}}},
          {"mark": {"type": "text", "align": "left", "fontSize": 8, "color": "#333"}, "encoding": {"x": {"datum": 0.86}, "y": {"datum": 0.79}, "text": {"field": "sigma"}}},
          {"mark": {"type": "text", "align": "left", "fontSize": 36, "font": "DejaVu Serif", "fontStyle": "italic", "color": "#000"}, "encoding": {"x": {"datum": 0.072}, "y": {"datum": 0.727}, "text": {"value": "π"}}},
          {"mark": {"type": "text", "align": "left", "fontSize": 22, "color": "#000"}, "encoding": {"x": {"datum": 0.183}, "y": {"datum": 0.836}, "text": {"value": "+"}}}
        ]}
      ]
    },
    {
      "width": 208, "height": 128,
      "resolve": {"scale": {"x": "independent", "y": "independent"}},
      "layer": [
        {"encoding": {
          "x": {"field": "x", "type": "quantitative", "scale": {"domain": [-0.2, 0.2]}, "axis": {"title": "Δ p / p", "values": [-0.2, -0.1, 0, 0.1, 0.2], "labelExpr": "replace(format(datum.value, '.2f'), '−', '-')"}},
          "y": {"field": "n", "type": "quantitative", "scale": {"domain": [0, 1500]}, "axis": {"title": "Counts", "values": [0, 200, 400, 600, 800, 1000, 1200, 1400], "format": "d"}}
        },
        "layer": [
          {"data": {"name": "D"}, "mark": {"type": "area", "interpolate": "step", "color": "#9ccbe3", "opacity": 1}},
          {"data": {"name": "D"}, "mark": {"type": "line", "interpolate": "step", "color": "#2a2a2a", "strokeWidth": 1}},
          {"data": {"name": "fitD"}, "mark": {"type": "line", "interpolate": "monotone", "color": "#4a5fc1", "strokeWidth": 1.2}}
        ]},
        {"data": {"name": "stats"}, "transform": [{"filter": "datum.panel == 'D'"}],
         "encoding": {"x": {"datum": 0, "type": "quantitative", "scale": {"domain": [0, 1]}, "axis": null}, "y": {"datum": 0, "type": "quantitative", "scale": {"domain": [0, 1]}, "axis": null}},
         "layer": [
          {"mark": {"type": "rect", "fill": "white", "stroke": "#222", "strokeWidth": 1.2}, "encoding": {"x": {"datum": 0.702}, "x2": {"datum": 1}, "y": {"datum": 0.735}, "y2": {"datum": 1}}},
          {"mark": {"type": "text", "align": "left", "fontSize": 8, "color": "#333"}, "encoding": {"x": {"datum": 0.721}, "y": {"datum": 0.9}, "text": {"value": "mean"}}},
          {"mark": {"type": "text", "align": "left", "fontSize": 8, "color": "#333"}, "encoding": {"x": {"datum": 0.721}, "y": {"datum": 0.785}, "text": {"value": "sigma"}}},
          {"mark": {"type": "text", "align": "right", "fontSize": 8, "color": "#333"}, "encoding": {"x": {"datum": 0.981}, "y": {"datum": 0.9}, "text": {"field": "mean"}}},
          {"mark": {"type": "text", "align": "right", "fontSize": 8, "color": "#333"}, "encoding": {"x": {"datum": 0.981}, "y": {"datum": 0.785}, "text": {"field": "sigma"}}},
          {"mark": {"type": "text", "align": "left", "fontSize": 36, "font": "DejaVu Serif", "fontStyle": "italic", "color": "#000"}, "encoding": {"x": {"datum": 0.066}, "y": {"datum": 0.721}, "text": {"value": "π"}}},
          {"mark": {"type": "text", "align": "left", "fontSize": 24, "fontWeight": "bold", "color": "#000"}, "encoding": {"x": {"datum": 0.168}, "y": {"datum": 0.81}, "text": {"value": "-"}}}
        ]}
      ]
    },
    {
      "width": 208, "height": 128,
      "resolve": {"scale": {"x": "independent", "y": "independent"}},
      "title": {"text": "Multi-track DIS sample (Harut)", "orient": "bottom", "anchor": "middle", "dx": -5, "offset": 8, "font": "Liberation Sans", "fontSize": 16, "fontWeight": "normal", "color": "#222"},
      "layer": [
        {"encoding": {
          "x": {"field": "x", "type": "quantitative", "scale": {"domain": [-2, 2]}, "axis": {"title": "Δ θ, deg", "values": [-2, -1, 0, 1, 2], "labelExpr": "replace(format(datum.value, '.1f'), '−', '-')"}},
          "y": {"field": "n", "type": "quantitative", "scale": {"domain": [0, 620]}, "axis": {"title": "Counts", "values": [0, 100, 200, 300, 400, 500, 600], "format": "d"}}
        },
        "layer": [
          {"data": {"name": "E"}, "mark": {"type": "area", "interpolate": "step", "color": "#9ccbe3", "opacity": 1}},
          {"data": {"name": "E"}, "mark": {"type": "line", "interpolate": "step", "color": "#2a2a2a", "strokeWidth": 1}},
          {"data": {"name": "fitE"}, "mark": {"type": "line", "interpolate": "monotone", "color": "#4a5fc1", "strokeWidth": 1.2}}
        ]},
        {"data": {"name": "stats"}, "transform": [{"filter": "datum.panel == 'E'"}],
         "encoding": {"x": {"datum": 0, "type": "quantitative", "scale": {"domain": [0, 1]}, "axis": null}, "y": {"datum": 0, "type": "quantitative", "scale": {"domain": [0, 1]}, "axis": null}},
         "layer": [
          {"mark": {"type": "rect", "fill": "white", "stroke": "#222", "strokeWidth": 1.2}, "encoding": {"x": {"datum": 0.716}, "x2": {"datum": 1}, "y": {"datum": 0.735}, "y2": {"datum": 1}}},
          {"mark": {"type": "text", "align": "left", "fontSize": 8, "color": "#333"}, "encoding": {"x": {"datum": 0.735}, "y": {"datum": 0.9}, "text": {"value": "mean"}}},
          {"mark": {"type": "text", "align": "left", "fontSize": 8, "color": "#333"}, "encoding": {"x": {"datum": 0.735}, "y": {"datum": 0.785}, "text": {"value": "sigma"}}},
          {"mark": {"type": "text", "align": "right", "fontSize": 8, "color": "#333"}, "encoding": {"x": {"datum": 0.981}, "y": {"datum": 0.9}, "text": {"field": "mean"}}},
          {"mark": {"type": "text", "align": "right", "fontSize": 8, "color": "#333"}, "encoding": {"x": {"datum": 0.981}, "y": {"datum": 0.785}, "text": {"field": "sigma"}}},
          {"mark": {"type": "text", "align": "left", "fontSize": 36, "font": "DejaVu Serif", "fontStyle": "italic", "color": "#000"}, "encoding": {"x": {"datum": 0.072}, "y": {"datum": 0.721}, "text": {"value": "π"}}},
          {"mark": {"type": "text", "align": "left", "fontSize": 24, "fontWeight": "bold", "color": "#000"}, "encoding": {"x": {"datum": 0.174}, "y": {"datum": 0.81}, "text": {"value": "-"}}}
        ]}
      ]
    },
    {
      "width": 208, "height": 128,
      "resolve": {"scale": {"x": "independent", "y": "independent"}},
      "layer": [
        {"encoding": {
          "x": {"field": "x", "type": "quantitative", "scale": {"domain": [-1, 1]}, "axis": {"title": "Δ φ, deg", "values": [-1, -0.5, 0, 0.5, 1], "labelExpr": "replace(format(datum.value, '.1f'), '−', '-')"}},
          "y": {"field": "n", "type": "quantitative", "scale": {"domain": [0, 890]}, "axis": {"title": "Counts", "values": [0, 200, 400, 600, 800], "format": "d"}}
        },
        "layer": [
          {"data": {"name": "F"}, "mark": {"type": "area", "interpolate": "step", "color": "#9ccbe3", "opacity": 1}},
          {"data": {"name": "F"}, "mark": {"type": "line", "interpolate": "step", "color": "#2a2a2a", "strokeWidth": 1}},
          {"data": {"name": "fitF"}, "mark": {"type": "line", "interpolate": "monotone", "color": "#4a5fc1", "strokeWidth": 1.2}}
        ]},
        {"data": {"name": "stats"}, "transform": [{"filter": "datum.panel == 'F'"}],
         "encoding": {"x": {"datum": 0, "type": "quantitative", "scale": {"domain": [0, 1]}, "axis": null}, "y": {"datum": 0, "type": "quantitative", "scale": {"domain": [0, 1]}, "axis": null}},
         "layer": [
          {"mark": {"type": "rect", "fill": "white", "stroke": "#222", "strokeWidth": 1.2}, "encoding": {"x": {"datum": 0.71}, "x2": {"datum": 1}, "y": {"datum": 0.735}, "y2": {"datum": 1}}},
          {"mark": {"type": "text", "align": "left", "fontSize": 8, "color": "#333"}, "encoding": {"x": {"datum": 0.729}, "y": {"datum": 0.9}, "text": {"value": "mean"}}},
          {"mark": {"type": "text", "align": "left", "fontSize": 8, "color": "#333"}, "encoding": {"x": {"datum": 0.729}, "y": {"datum": 0.785}, "text": {"value": "sigma"}}},
          {"mark": {"type": "text", "align": "left", "fontSize": 8, "color": "#333"}, "encoding": {"x": {"datum": 0.862}, "y": {"datum": 0.9}, "text": {"field": "mean"}}},
          {"mark": {"type": "text", "align": "left", "fontSize": 8, "color": "#333"}, "encoding": {"x": {"datum": 0.862}, "y": {"datum": 0.785}, "text": {"field": "sigma"}}},
          {"mark": {"type": "text", "align": "left", "fontSize": 36, "font": "DejaVu Serif", "fontStyle": "italic", "color": "#000"}, "encoding": {"x": {"datum": 0.072}, "y": {"datum": 0.721}, "text": {"value": "π"}}},
          {"mark": {"type": "text", "align": "left", "fontSize": 24, "fontWeight": "bold", "color": "#000"}, "encoding": {"x": {"datum": 0.174}, "y": {"datum": 0.81}, "text": {"value": "-"}}}
        ]}
      ]
    }
  ]
}
